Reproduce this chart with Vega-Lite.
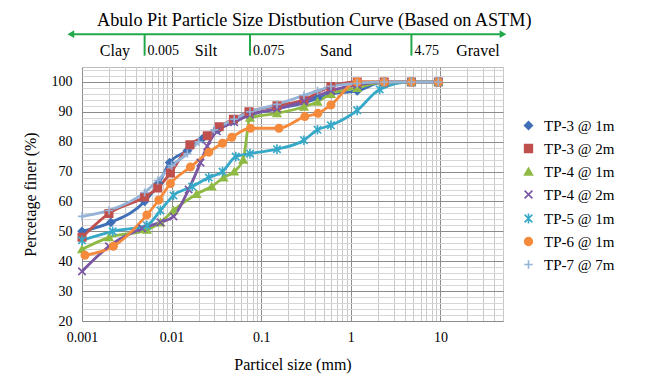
{
  "$schema": "https://vega.github.io/schema/vega-lite/v6.json",
  "width": 421,
  "height": 254,
  "autosize": {"type": "none"},
  "padding": {"left": 82, "top": 67, "right": 148, "bottom": 61},
  "background": "white",
  "config": {
    "font": "Liberation Serif",
    "view": {"stroke": "#bfbfbf", "strokeWidth": 1},
    "axis": {"labelFont": "Liberation Serif", "titleFont": "Liberation Serif", "labelColor": "#000", "titleColor": "#000", "titleFontWeight": "normal", "labelFontSize": 14, "titleFontSize": 16, "labelOverlap": false}
  },
  "title": {"text": "Abulo Pit  Particle Size Distbution Curve (Based on ASTM)", "anchor": "start", "frame": "group", "dx": 15, "offset": -14, "baseline": "alphabetic", "font": "Liberation Serif", "fontSize": 18.2, "fontWeight": "normal", "color": "#000"},
  "datasets": {
    "gsd": [
      {"series": "TP-3 @ 1m", "size": 0.001, "finer": 50},
      {"series": "TP-3 @ 1m", "size": 0.0021, "finer": 53},
      {"series": "TP-3 @ 1m", "size": 0.005, "finer": 60},
      {"series": "TP-3 @ 1m", "size": 0.0072, "finer": 66},
      {"series": "TP-3 @ 1m", "size": 0.0095, "finer": 73},
      {"series": "TP-3 @ 1m", "size": 0.015, "finer": 77},
      {"series": "TP-3 @ 1m", "size": 0.022, "finer": 81},
      {"series": "TP-3 @ 1m", "size": 0.033, "finer": 84},
      {"series": "TP-3 @ 1m", "size": 0.05, "finer": 87},
      {"series": "TP-3 @ 1m", "size": 0.075, "finer": 89},
      {"series": "TP-3 @ 1m", "size": 0.15, "finer": 91},
      {"series": "TP-3 @ 1m", "size": 0.3, "finer": 93},
      {"series": "TP-3 @ 1m", "size": 0.425, "finer": 94.5},
      {"series": "TP-3 @ 1m", "size": 0.6, "finer": 96},
      {"series": "TP-3 @ 1m", "size": 1.18, "finer": 97},
      {"series": "TP-3 @ 1m", "size": 2.36, "finer": 100},
      {"series": "TP-3 @ 1m", "size": 4.75, "finer": 100},
      {"series": "TP-3 @ 1m", "size": 9.5, "finer": 100},
      {"series": "TP-3 @ 2m", "size": 0.001, "finer": 48},
      {"series": "TP-3 @ 2m", "size": 0.002, "finer": 56},
      {"series": "TP-3 @ 2m", "size": 0.005, "finer": 61.5},
      {"series": "TP-3 @ 2m", "size": 0.007, "finer": 64.5},
      {"series": "TP-3 @ 2m", "size": 0.0097, "finer": 69.5},
      {"series": "TP-3 @ 2m", "size": 0.016, "finer": 79},
      {"series": "TP-3 @ 2m", "size": 0.025, "finer": 82},
      {"series": "TP-3 @ 2m", "size": 0.034, "finer": 85},
      {"series": "TP-3 @ 2m", "size": 0.049, "finer": 87.5},
      {"series": "TP-3 @ 2m", "size": 0.073, "finer": 90},
      {"series": "TP-3 @ 2m", "size": 0.15, "finer": 92},
      {"series": "TP-3 @ 2m", "size": 0.3, "finer": 94},
      {"series": "TP-3 @ 2m", "size": 0.6, "finer": 98.5},
      {"series": "TP-3 @ 2m", "size": 1.18, "finer": 100},
      {"series": "TP-3 @ 2m", "size": 2.36, "finer": 100},
      {"series": "TP-3 @ 2m", "size": 4.75, "finer": 100},
      {"series": "TP-3 @ 2m", "size": 9.5, "finer": 100},
      {"series": "TP-4 @ 1m", "size": 0.001, "finer": 44},
      {"series": "TP-4 @ 1m", "size": 0.002, "finer": 48},
      {"series": "TP-4 @ 1m", "size": 0.0053, "finer": 50.5},
      {"series": "TP-4 @ 1m", "size": 0.0075, "finer": 53},
      {"series": "TP-4 @ 1m", "size": 0.0105, "finer": 57},
      {"series": "TP-4 @ 1m", "size": 0.019, "finer": 62.5},
      {"series": "TP-4 @ 1m", "size": 0.028, "finer": 65},
      {"series": "TP-4 @ 1m", "size": 0.038, "finer": 68},
      {"series": "TP-4 @ 1m", "size": 0.05, "finer": 70},
      {"series": "TP-4 @ 1m", "size": 0.063, "finer": 74},
      {"series": "TP-4 @ 1m", "size": 0.075, "finer": 88},
      {"series": "TP-4 @ 1m", "size": 0.15, "finer": 89.5},
      {"series": "TP-4 @ 1m", "size": 0.3, "finer": 91.7},
      {"series": "TP-4 @ 1m", "size": 0.425, "finer": 93.4},
      {"series": "TP-4 @ 1m", "size": 0.6, "finer": 96},
      {"series": "TP-4 @ 1m", "size": 1.18, "finer": 98},
      {"series": "TP-4 @ 1m", "size": 2.36, "finer": 100},
      {"series": "TP-4 @ 1m", "size": 4.75, "finer": 100},
      {"series": "TP-4 @ 1m", "size": 9.5, "finer": 100},
      {"series": "TP-4 @ 2m", "size": 0.001, "finer": 36.6},
      {"series": "TP-4 @ 2m", "size": 0.002, "finer": 45},
      {"series": "TP-4 @ 2m", "size": 0.0047, "finer": 51},
      {"series": "TP-4 @ 2m", "size": 0.0075, "finer": 53},
      {"series": "TP-4 @ 2m", "size": 0.0105, "finer": 55},
      {"series": "TP-4 @ 2m", "size": 0.0155, "finer": 64},
      {"series": "TP-4 @ 2m", "size": 0.021, "finer": 73},
      {"series": "TP-4 @ 2m", "size": 0.025, "finer": 78.5},
      {"series": "TP-4 @ 2m", "size": 0.032, "finer": 83.5},
      {"series": "TP-4 @ 2m", "size": 0.05, "finer": 86.5},
      {"series": "TP-4 @ 2m", "size": 0.075, "finer": 89},
      {"series": "TP-4 @ 2m", "size": 0.15, "finer": 91},
      {"series": "TP-4 @ 2m", "size": 0.3, "finer": 93.5},
      {"series": "TP-4 @ 2m", "size": 0.6, "finer": 97},
      {"series": "TP-4 @ 2m", "size": 1.18, "finer": 99},
      {"series": "TP-4 @ 2m", "size": 2.36, "finer": 100},
      {"series": "TP-4 @ 2m", "size": 4.75, "finer": 100},
      {"series": "TP-4 @ 2m", "size": 9.5, "finer": 100},
      {"series": "TP-5 @ 1m", "size": 0.001, "finer": 47},
      {"series": "TP-5 @ 1m", "size": 0.0022, "finer": 50},
      {"series": "TP-5 @ 1m", "size": 0.0053, "finer": 52},
      {"series": "TP-5 @ 1m", "size": 0.0075, "finer": 57},
      {"series": "TP-5 @ 1m", "size": 0.0105, "finer": 62},
      {"series": "TP-5 @ 1m", "size": 0.017, "finer": 65},
      {"series": "TP-5 @ 1m", "size": 0.026, "finer": 68},
      {"series": "TP-5 @ 1m", "size": 0.037, "finer": 70},
      {"series": "TP-5 @ 1m", "size": 0.052, "finer": 75},
      {"series": "TP-5 @ 1m", "size": 0.075, "finer": 76},
      {"series": "TP-5 @ 1m", "size": 0.15, "finer": 77.5},
      {"series": "TP-5 @ 1m", "size": 0.3, "finer": 80.5},
      {"series": "TP-5 @ 1m", "size": 0.425, "finer": 84},
      {"series": "TP-5 @ 1m", "size": 0.6, "finer": 85.5},
      {"series": "TP-5 @ 1m", "size": 1.18, "finer": 90.5},
      {"series": "TP-5 @ 1m", "size": 2.1, "finer": 97.5},
      {"series": "TP-5 @ 1m", "size": 4.75, "finer": 100},
      {"series": "TP-5 @ 1m", "size": 9.5, "finer": 100},
      {"series": "TP-6 @ 1m", "size": 0.00108, "finer": 42},
      {"series": "TP-6 @ 1m", "size": 0.00224, "finer": 45},
      {"series": "TP-6 @ 1m", "size": 0.0053, "finer": 55.5},
      {"series": "TP-6 @ 1m", "size": 0.0072, "finer": 60.5},
      {"series": "TP-6 @ 1m", "size": 0.0097, "finer": 66},
      {"series": "TP-6 @ 1m", "size": 0.0162, "finer": 71.5},
      {"series": "TP-6 @ 1m", "size": 0.026, "finer": 76.5},
      {"series": "TP-6 @ 1m", "size": 0.037, "finer": 79.5},
      {"series": "TP-6 @ 1m", "size": 0.047, "finer": 81.5},
      {"series": "TP-6 @ 1m", "size": 0.076, "finer": 84.5},
      {"series": "TP-6 @ 1m", "size": 0.158, "finer": 84.5},
      {"series": "TP-6 @ 1m", "size": 0.307, "finer": 88.4},
      {"series": "TP-6 @ 1m", "size": 0.43, "finer": 89.5},
      {"series": "TP-6 @ 1m", "size": 0.6, "finer": 92.3},
      {"series": "TP-6 @ 1m", "size": 1.18, "finer": 100},
      {"series": "TP-6 @ 1m", "size": 2.36, "finer": 100},
      {"series": "TP-6 @ 1m", "size": 4.75, "finer": 100},
      {"series": "TP-6 @ 1m", "size": 9.5, "finer": 100},
      {"series": "TP-7 @ 7m", "size": 0.001, "finer": 55},
      {"series": "TP-7 @ 7m", "size": 0.002, "finer": 57},
      {"series": "TP-7 @ 7m", "size": 0.005, "finer": 63},
      {"series": "TP-7 @ 7m", "size": 0.007, "finer": 67},
      {"series": "TP-7 @ 7m", "size": 0.01, "finer": 72},
      {"series": "TP-7 @ 7m", "size": 0.015, "finer": 76},
      {"series": "TP-7 @ 7m", "size": 0.02, "finer": 80},
      {"series": "TP-7 @ 7m", "size": 0.03, "finer": 84},
      {"series": "TP-7 @ 7m", "size": 0.05, "finer": 87.5},
      {"series": "TP-7 @ 7m", "size": 0.075, "finer": 90},
      {"series": "TP-7 @ 7m", "size": 0.15, "finer": 92.5},
      {"series": "TP-7 @ 7m", "size": 0.3, "finer": 95.5},
      {"series": "TP-7 @ 7m", "size": 0.425, "finer": 97},
      {"series": "TP-7 @ 7m", "size": 0.6, "finer": 98.5},
      {"series": "TP-7 @ 7m", "size": 1.18, "finer": 99.5},
      {"series": "TP-7 @ 7m", "size": 2.36, "finer": 100},
      {"series": "TP-7 @ 7m", "size": 4.75, "finer": 100},
      {"series": "TP-7 @ 7m", "size": 9.5, "finer": 100}
    ],
    "bounds": [
      {"label": "0.005", "size": 0.005},
      {"label": "0.075", "size": 0.075},
      {"label": "4.75", "size": 4.75}
    ],
    "zones": [
      {"zone": "Clay", "size": 0.00233},
      {"zone": "Silt", "size": 0.0242},
      {"zone": "Sand", "size": 0.684},
      {"zone": "Gravel", "size": 26.3}
    ],
    "arrow": [{"from": 0.00075, "to": 50}]
  },
  "layer": [
    {
      "data": {"name": "gsd"},
      "mark": {"type": "line", "strokeWidth": 2.8, "interpolate": "monotone"},
      "encoding": {
        "x": {"field": "size", "type": "quantitative", "scale": {"type": "log", "domain": [0.001, 50], "nice": false},
          "axis": {"title": "Particel size (mm)", "titlePadding": 12, "tickCount": 200,
            "values": [0.001,0.002,0.003,0.004,0.005,0.006,0.007,0.008,0.009,0.01,0.02,0.03,0.04,0.05,0.06,0.07,0.08,0.09,0.1,0.2,0.3,0.4,0.5,0.6,0.7,0.8,0.9,1,2,3,4,5,6,7,8,9,10,20,30,40,50],
            "labelExpr": "indexof([0.001,0.01,0.1,1,10], datum.value) >= 0 ? format(datum.value, '~g') : ''",
            "ticks": false, "domain": false, "labelPadding": 9, "labelFlush": false, "labelOverlap": false,
            "gridColor": {"condition": {"test": "indexof([0.001,0.01,0.1,1,10], datum.value) >= 0", "value": "#8c8c8c"}, "value": "#c8c8c8"},
            "gridWidth": 1}},
        "y": {"field": "finer", "type": "quantitative", "scale": {"domain": [20, 105], "nice": false, "zero": false},
          "axis": {"title": "Percetage finer (%)", "titlePadding": 13, "tickCount": 200,
            "values": [20,22,24,26,28,30,32,34,36,38,40,42,44,46,48,50,52,54,56,58,60,62,64,66,68,70,72,74,76,78,80,82,84,86,88,90,92,94,96,98,100,102,104],
            "labelExpr": "datum.value % 10 == 0 ? format(datum.value, 'd') : ''",
            "ticks": false, "domain": false, "labelPadding": 10, "labelOverlap": false,
            "gridColor": {"condition": {"test": "datum.value % 10 == 0", "value": "#8c8c8c"}, "value": "#d6d6d6"},
            "gridWidth": 1}},
        "color": {"field": "series", "type": "nominal",
          "scale": {"domain": ["TP-3 @ 1m", "TP-3 @ 2m", "TP-4 @ 1m", "TP-4 @ 2m", "TP-5 @ 1m", "TP-6 @ 1m", "TP-7 @ 7m"],
            "range": ["#3f6fb6", "#c0504d", "#8fba44", "#7a56a3", "#36a8c8", "#f58a3c", "#95b3d7"]},
          "legend": {"title": null, "orient": "none", "legendX": 439, "legendY": 51, "labelFont": "Liberation Serif", "labelFontSize": 15, "labelColor": "#000", "symbolSize": 60, "symbolStrokeWidth": 1.6, "rowPadding": 7, "labelOffset": 8}},
        "detail": {"field": "series"}
      }
    },
    {
      "data": {"name": "gsd"},
      "mark": {"type": "point", "filled": true, "size": 55, "strokeWidth": 1.6, "opacity": 1},
      "encoding": {
        "x": {"field": "size", "type": "quantitative"},
        "y": {"field": "finer", "type": "quantitative"},
        "color": {"field": "series", "type": "nominal",
          "legend": {"title": null, "orient": "none", "legendX": 439, "legendY": 51, "labelFont": "Liberation Serif", "labelFontSize": 15, "labelColor": "#000", "symbolSize": 60, "symbolStrokeWidth": 1.6, "rowPadding": 7, "labelOffset": 8}},
        "stroke": {"field": "series", "type": "nominal",
          "scale": {"domain": ["TP-3 @ 1m", "TP-3 @ 2m", "TP-4 @ 1m", "TP-4 @ 2m", "TP-5 @ 1m", "TP-6 @ 1m", "TP-7 @ 7m"],
            "range": ["#3f6fb6", "#c0504d", "#8fba44", "#7a56a3", "#36a8c8", "#f58a3c", "#95b3d7"]},
          "legend": {"title": null, "orient": "none", "legendX": 439, "legendY": 51, "labelFont": "Liberation Serif", "labelFontSize": 15, "labelColor": "#000", "symbolSize": 60, "symbolStrokeWidth": 1.6, "rowPadding": 7, "labelOffset": 8}},
        "shape": {"field": "series", "type": "nominal",
          "scale": {"domain": ["TP-3 @ 1m", "TP-3 @ 2m", "TP-4 @ 1m", "TP-4 @ 2m", "TP-5 @ 1m", "TP-6 @ 1m", "TP-7 @ 7m"],
            "range": ["diamond", "square", "triangle-up", "M-1,-1L1,1M-1,1L1,-1", "M-1,-1L1,1M-1,1L1,-1M0,-1.3L0,1.3", "circle", "M-1.1,0L1.1,0M0,-1.1L0,1.1"]},
          "legend": {"title": null, "orient": "none", "legendX": 439, "legendY": 51, "labelFont": "Liberation Serif", "labelFontSize": 15, "labelColor": "#000", "symbolSize": 60, "symbolStrokeWidth": 1.6, "rowPadding": 7, "labelOffset": 8}}
      }
    },
    {
      "data": {"name": "arrow"},
      "mark": {"type": "rule", "color": "#22a84a", "strokeWidth": 2},
      "encoding": {"x": {"field": "from", "type": "quantitative"}, "x2": {"field": "to"}, "y": {"datum": 116, "type": "quantitative"}}
    },
    {
      "data": {"name": "arrow"},
      "mark": {"type": "point", "shape": "triangle-left", "filled": true, "color": "#22a84a", "size": 60, "opacity": 1},
      "encoding": {"x": {"field": "from", "type": "quantitative"}, "y": {"datum": 116, "type": "quantitative"}}
    },
    {
      "data": {"name": "arrow"},
      "mark": {"type": "point", "shape": "triangle-right", "filled": true, "color": "#22a84a", "size": 60, "opacity": 1},
      "encoding": {"x": {"field": "to", "type": "quantitative"}, "y": {"datum": 116, "type": "quantitative"}}
    },
    {
      "data": {"name": "bounds"},
      "mark": {"type": "rule", "color": "#22a84a", "strokeWidth": 2},
      "encoding": {"x": {"field": "size", "type": "quantitative"}, "y": {"datum": 116, "type": "quantitative"}, "y2": {"datum": 108.8}}
    },
    {
      "data": {"name": "bounds"},
      "mark": {"type": "text", "align": "left", "baseline": "middle", "dx": 3, "font": "Liberation Serif", "fontSize": 14, "color": "#000"},
      "encoding": {"x": {"field": "size", "type": "quantitative"}, "y": {"datum": 110.4, "type": "quantitative"}, "text": {"field": "label"}}
    },
    {
      "data": {"name": "zones"},
      "mark": {"type": "text", "align": "center", "baseline": "middle", "font": "Liberation Serif", "fontSize": 16, "color": "#000"},
      "encoding": {"x": {"field": "size", "type": "quantitative"}, "y": {"datum": 110.4, "type": "quantitative"}, "text": {"field": "zone"}}
    }
  ]
}
